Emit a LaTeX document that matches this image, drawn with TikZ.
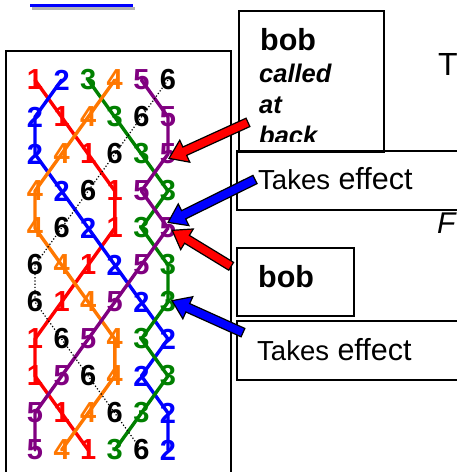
\documentclass[tikz,border=0pt]{standalone}
\usepackage{fontspec}
\setmainfont{Liberation Sans}
\usetikzlibrary{calc, positioning, shapes.arrows, backgrounds}
\colorlet{bell1}{red}
\definecolor{bell2}{RGB}{0,0,255}
\definecolor{bell3}{RGB}{0,128,0}
\definecolor{bell4}{RGB}{255,119,0}
\definecolor{bell5}{RGB}{128,0,128}
\colorlet{bell6}{black}

\begin{document}
\begin{tikzpicture}[
    x=1pt, y=-1pt,
    digit/.style={font=\fontsize{29}{29}\selectfont\bfseries, inner sep=0pt},
    ring/.style={line width=3.4pt, line join=round, line cap=round},
    box/.style={draw, line width=1.5pt, anchor=north west, inner sep=0pt},
    bobtxt/.style={anchor=base west, inner sep=0pt, font=\fontsize{30.5}{30.5}\selectfont\bfseries},
    calltxt/.style={anchor=base west, inner sep=0pt, font=\fontsize{25.5}{25.5}\selectfont\bfseries\itshape},
    effecttxt/.style={anchor=base west, inner sep=0pt, font=\fontsize{30.5}{30.5}\selectfont},
    blockarrow/.style={single arrow, draw=black, line width=1.2pt, fill=#1, inner xsep=0pt, inner ysep=4pt, single arrow head extend=7.5pt, single arrow tip angle=70}
]
\useasboundingbox (0,0) rectangle (457,472);
\clip (0,0) rectangle (457,472);

% Link underline
\fill[gray!60] (32,7) rectangle (135,9.5);
\fill[bell2] (30,4) rectangle (133,7.3);

% Frame
\draw[line width=2pt] (6,51) rectangle (231,490);

% Rows
\foreach \change [count=\r] in {{1,2,3,4,5,6},{2,1,4,3,6,5},{2,4,1,6,3,5},{4,2,6,1,5,3},{4,6,2,1,3,5},{6,4,1,2,5,3},{6,1,4,5,2,3},{1,6,5,4,3,2},{1,5,6,4,2,3},{5,1,4,6,3,2},{5,4,1,3,6,2}}
  \foreach \bell [count=\c] in \change
    \node[digit, text=bell\bell] (b\bell-\r) at ({35+26.6*(\c-1)}, {80+37*(\r-1)}) {\bell};

% Blue lines
\begin{scope}[on background layer]
\foreach \bell in {1,...,5}
  \draw[ring, bell\bell] (b\bell-1.center) \foreach \r in {2,...,11} {-- (b\bell-\r.center)};
\draw[line width=1.2pt, dotted] (b6-1.center) \foreach \r in {2,...,11} {-- (b6-\r.center)};
\end{scope}

% Boxes
\node[box, minimum width=145, minimum height=141] (callbox) at (238,10) {};
\node[box, minimum width=240, minimum height=59] (effectbox1) at (236,150) {};
\node[box, minimum width=117, minimum height=68] (bobbox) at (236,247) {};
\node[box, minimum width=240, minimum height=59] (effectbox2) at (236,320) {};

% Call text
\begin{scope}
\clip (callbox.north west) rectangle ($(callbox.south east)+(0,-11)$);
\node[bobtxt] (bobcall) at (260,50) {bob};
\foreach \w [count=\i] in {called,at,back}
  \node[calltxt] (call\i) at (259,{51+31*\i}) {\w};
\end{scope}

\node[effecttxt] (effect1) at (258,189) {{\fontsize{27.5}{27.5}\selectfont Takes} effect};
\node[bobtxt] (bobplain) at (258,287) {bob};
\node[effecttxt] (effect2) at (257,360) {{\fontsize{27.5}{27.5}\selectfont Takes} effect};
\node[anchor=base west, inner sep=0pt, font=\fontsize{32}{32}\selectfont] (edgeT) at (438,75) {T};
\node[anchor=base west, inner sep=0pt, font=\fontsize{30}{30}\selectfont\itshape] (edgeF) at (437,233) {F};

% Arrows
\coordinate (tip1) at ($(b5-3)+(4,3)$);
\coordinate (tail1) at (251,121);
\coordinate (tip2) at ($(b5-5)+(3,-7)$);
\coordinate (tail2) at (258,178);
\coordinate (tip3) at ($(b5-5)+(7,4)$);
\coordinate (tail3) at (234,268);
\coordinate (tip4) at ($(b3-7)+(7,0)$);
\coordinate (tail4) at (246,334);
\foreach \k/\col in {1/bell1, 2/bell2, 3/bell1, 4/bell2}
  \path let \p1=($(tip\k)-(tail\k)$), \n1={atan2(\y1,\x1)}, \n2={veclen(\x1,\y1)} in
    node[blockarrow=\col, rotate=\n1, minimum height=\n2] (arrow\k) at ($(tail\k)!0.5!(tip\k)$) {};

\end{tikzpicture}
\end{document}
